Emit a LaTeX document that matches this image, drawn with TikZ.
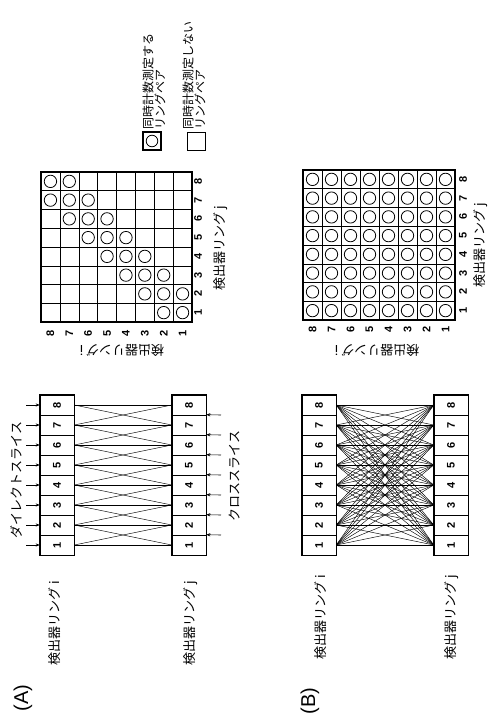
\documentclass[tikz,border=0pt]{standalone}
\usepackage{fontspec}
\usepackage{graphicx}
\newfontfamily\jp{Noto Sans CJK JP}
\newfontfamily\dg{Liberation Sans}
\usetikzlibrary{arrows.meta}
\begin{document}
\begin{tikzpicture}[x=1pt,y=-1pt,
  cell/.style={draw, line width=0.6pt, minimum width=34pt, minimum height=20pt, inner sep=0pt,
    font=\dg\bfseries\fontsize{11}{11}\selectfont},
  ringframe/.style={line width=1.6pt},
  conn/.style={line width=0.45pt},
  arr/.style={line width=0.6pt, -{Stealth[length=4pt,width=3.2pt]}},
  jlabel/.style={font=\jp\fontsize{13}{13}\selectfont, inner sep=0pt},
  jsmall/.style={font=\jp\fontsize{12}{12}\selectfont, inner sep=0pt},
  dlabel/.style={font=\dg\bfseries\fontsize{11}{11}\selectfont, inner sep=0pt},
  biglabel/.style={font=\dg\fontsize{20}{20}\selectfont, inner sep=0pt},
  gridline/.style={line width=0.5pt},
  gridframe/.style={line width=1.2pt},
  mark circle/.style={line width=0.8pt}
]
\useasboundingbox (0,0) rectangle (488,719);

% ---------------- (A) ring diagram ----------------
\foreach \k in {1,...,8} {
  \node[cell] (ai\k) at (57,{545-20*(\k-1)}) {\rotatebox{90}{\k}};
  \node[cell] (aj\k) at (189,{545-20*(\k-1)}) {\rotatebox{90}{\k}};
}
\draw[ringframe] (ai8.north west) rectangle (ai1.south east);
\draw[ringframe] (aj8.north west) rectangle (aj1.south east);
\foreach \k in {1,...,8} {
  \draw[conn] (ai\k.east) -- (aj\k.west);
  \coordinate (ds\k) at (26,{545-20*(\k-1)});
  \draw[arr] (ds\k) -- (ai\k.west);
}
\foreach \k/\m in {1/2,2/3,3/4,4/5,5/6,6/7,7/8} {
  \draw[conn] (ai\k.east) -- (aj\m.west);
  \draw[conn] (ai\m.east) -- (aj\k.west);
}
\foreach \k in {1,...,7} {
  \coordinate (cs\k) at (221,{535-20*(\k-1)});
  \draw[arr] (cs\k) -- (aj\k.north east);
}
\node[jlabel, rotate=90] (tds) at (16,480) {ダイレクトスライス};
\node[jlabel, rotate=90] (tcs) at (235,476) {クロススライス};
\node[jlabel, rotate=90] (lai) at (55,623) {検出器リング i};
\node[jlabel, rotate=90] (laj) at (191,623) {検出器リング j};
\node[biglabel, rotate=90] (labA) at (23,698) {(A)};

% ---------------- (B) ring diagram ----------------
\foreach \k in {1,...,8} {
  \node[cell] (bi\k) at (319,{545-20*(\k-1)}) {\rotatebox{90}{\k}};
  \node[cell] (bj\k) at (451,{545-20*(\k-1)}) {\rotatebox{90}{\k}};
}
\draw[ringframe] (bi8.north west) rectangle (bi1.south east);
\draw[ringframe] (bj8.north west) rectangle (bj1.south east);
\foreach \k in {1,...,8} {
  \foreach \m in {1,...,8} {
    \draw[conn] (bi\k.east) -- (bj\m.west);
  }
}
\node[jlabel, rotate=90] (lbi) at (321,617) {検出器リング i};
\node[jlabel, rotate=90] (lbj) at (452,617) {検出器リング j};
\node[biglabel, rotate=90] (labB) at (310,701) {(B)};

% ---------------- matrix (A) ----------------
\begin{scope}[shift={(41,172)}, x=18.875pt, y=-18.75pt]
  \foreach \t in {1,...,7} {
    \draw[gridline] (\t,0) -- (\t,8);
    \draw[gridline] (0,\t) -- (8,\t);
  }
  \draw[gridframe] (0,0) rectangle (8,8);
  \foreach \i in {1,...,8} {
    \foreach \j in {1,...,8} {
      \pgfmathtruncatemacro{\d}{abs(\i-\j)}
      \ifnum\d<2
        \draw[mark circle] ({8-\i+0.5},{8-\j+0.5}) circle[radius=6.2pt];
      \fi
    }
    \node[dlabel] (mar\i) at ({8-\i+0.5},8.59) {\rotatebox{90}{\i}};
    \node[dlabel] (mac\i) at (8.32,{8-\i+0.5}) {\rotatebox{90}{\i}};
  }
\end{scope}
\node[jlabel, rotate=180] (mai) at (122,350) {検出器リング i};
\node[jlabel, rotate=90] (maj) at (221,248) {検出器リング j};

% ---------------- matrix (B) ----------------
\begin{scope}[shift={(303,170)}, x=19pt, y=-18.75pt]
  \foreach \t in {1,...,7} {
    \draw[gridline] (\t,0) -- (\t,8);
    \draw[gridline] (0,\t) -- (8,\t);
  }
  \draw[gridframe] (0,0) rectangle (8,8);
  \foreach \i in {1,...,8} {
    \foreach \j in {1,...,8} {
      \draw[mark circle] ({8-\i+0.5},{8-\j+0.5}) circle[radius=6.2pt];
    }
    \node[dlabel] (mbr\i) at ({8-\i+0.5},8.53) {\rotatebox{90}{\i}};
    \node[dlabel] (mbc\i) at (8.42,{8-\i+0.5}) {\rotatebox{90}{\i}};
  }
\end{scope}
\node[jlabel, rotate=180] (mbi) at (377,350) {検出器リング i};
\node[jlabel, rotate=90] (mbj) at (481,245) {検出器リング j};

% ---------------- legend ----------------
\node[draw, line width=1.3pt, minimum size=18pt, inner sep=0pt] (lg1) at (152,141) {};
\draw[mark circle] (lg1.center) circle[radius=5.8pt];
\node[draw, line width=0.7pt, minimum size=18pt, inner sep=0pt] (lg2) at (196,141) {};
\node[jsmall, rotate=90, anchor=west] (lt1a) at (148,130) {同時計数測定する};
\node[jsmall, rotate=90, anchor=west] (lt1b) at (160,130) {リングペア};
\node[jsmall, rotate=90, anchor=west] (lt2a) at (188,130) {同時計数測定しない};
\node[jsmall, rotate=90, anchor=west] (lt2b) at (200,130) {リングペア};
\end{tikzpicture}
\end{document}
